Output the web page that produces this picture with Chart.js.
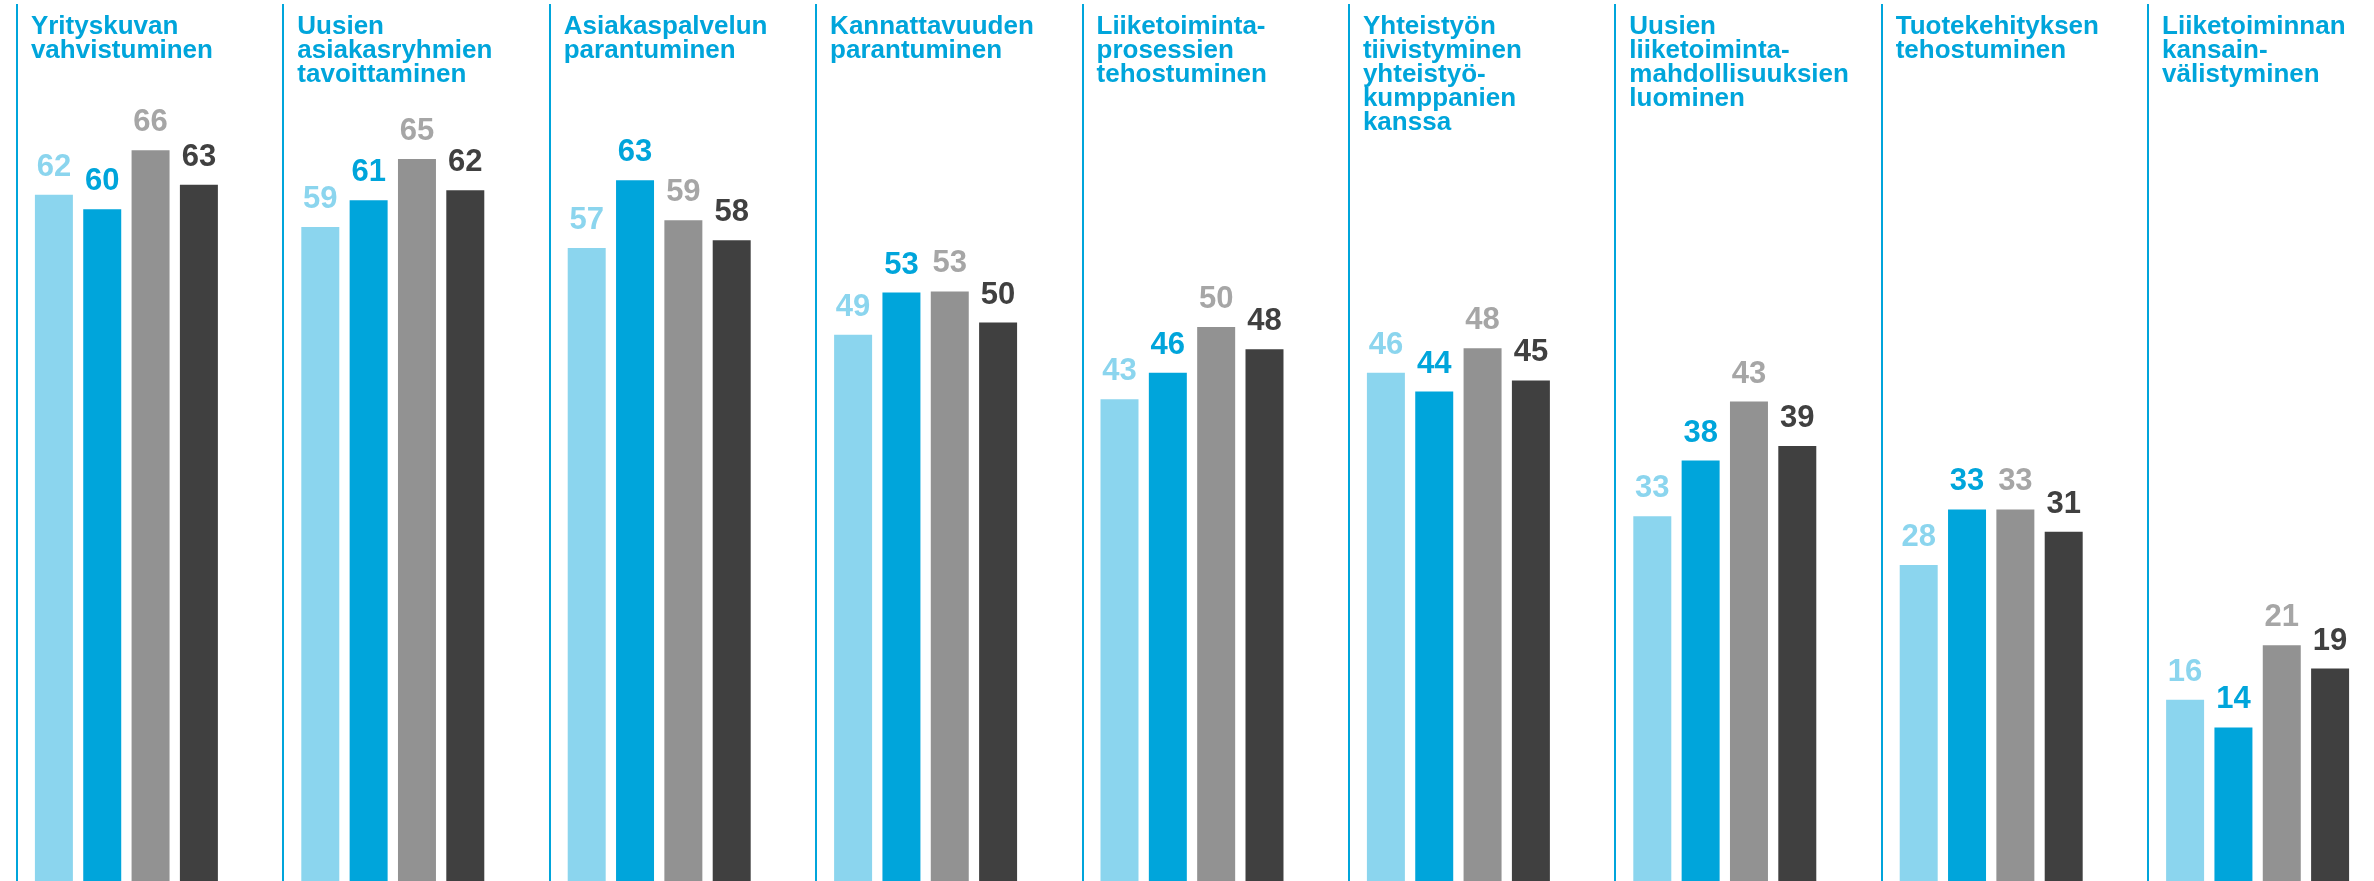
<!DOCTYPE html>
<html lang="fi">
<head>
<meta charset="utf-8">
<title>Vaikutukset</title>
<script src="https://cdn.jsdelivr.net/npm/chart.js@4.4.1/dist/chart.umd.min.js"></script>
<style>
  html, body { margin: 0; padding: 0; background: #fff; overflow: hidden; }
  #wrap { position: relative; width: 2374px; height: 881px; }
</style>
</head>
<body>
<div id="wrap"><canvas id="chart"></canvas></div>
<script>
// category titles, one array of lines each
const categories = [
  ['Yrityskuvan', 'vahvistuminen'],
  ['Uusien', 'asiakasryhmien', 'tavoittaminen'],
  ['Asiakaspalvelun', 'parantuminen'],
  ['Kannattavuuden', 'parantuminen'],
  ['Liiketoiminta-', 'prosessien', 'tehostuminen'],
  ['Yhteistyön', 'tiivistyminen', 'yhteistyö-', 'kumppanien', 'kanssa'],
  ['Uusien', 'liiketoiminta-', 'mahdollisuuksien', 'luominen'],
  ['Tuotekehityksen', 'tehostuminen'],
  ['Liiketoiminnan', 'kansain-', 'välistyminen']
];

// values (labels show them rounded)
const series1 = [61.7, 58.8, 56.9, 49.1, 43.3, 45.7, 32.8, 28.4, 16.3];
const series2 = [60.4, 61.2, 63.0, 52.9, 45.7, 44.0, 37.8, 33.4, 13.8];
const series3 = [65.7, 64.9, 59.4, 53.0, 49.8, 47.9, 43.1, 33.4, 21.2];
const series4 = [62.6, 62.1, 57.6, 50.2, 47.8, 45.0, 39.1, 31.4, 19.1];

const barColors = ['#8bd5ee', '#00a5db', '#929292', '#404040'];
const labelColors = ['#8bd5ee', '#00a5db', '#a6a6a6', '#404040'];
const titleColor = '#00a5db';
const FONT = '"Liberation Sans", Arial, sans-serif';

// separators, titles and value labels
const decorPlugin = {
  id: 'decor',
  afterDatasetsDraw(chart) {
    const ctx = chart.ctx;
    const firstBars = chart.getDatasetMeta(0).data;
    ctx.save();

    firstBars.forEach((bar, i) => {
      const left = bar.x - bar.width / 2;
      const sx = Math.round(left - 18);
      ctx.strokeStyle = '#00a5db';
      ctx.lineWidth = 2;
      ctx.beginPath();
      ctx.moveTo(sx, 4);
      ctx.lineTo(sx, chart.height);
      ctx.stroke();

      ctx.fillStyle = titleColor;
      ctx.font = 'bold 26px ' + FONT;
      ctx.textAlign = 'left';
      ctx.textBaseline = 'alphabetic';
      categories[i].forEach((line, j) => {
        ctx.fillText(line, left - 4, 34 + j * 24);
      });
    });

    ctx.font = 'bold 31px ' + FONT;
    ctx.textAlign = 'center';
    ctx.textBaseline = 'alphabetic';
    chart.data.datasets.forEach((ds, d) => {
      chart.getDatasetMeta(d).data.forEach((bar, i) => {
        ctx.fillStyle = labelColors[d];
        ctx.fillText(String(Math.round(ds.data[i])), bar.x, bar.y - 19);
      });
    });
    ctx.restore();
  }
};

const ctx = document.getElementById('chart').getContext('2d');
new Chart(ctx, {
  type: 'bar',
  data: {
    labels: categories,
    datasets: [series1, series2, series3, series4].map((s, i) => ({
      label: 'Sarja ' + (i + 1),
      data: s,
      backgroundColor: barColors[i],
      borderWidth: 0,
      categoryPercentage: 0.7257,
      barPercentage: 0.786,
      clip: false
    }))
  },
  options: {
    responsive: true,
    maintainAspectRatio: false,
    animation: false,
    devicePixelRatio: 1,
    layout: { padding: { left: 126.4, right: 116.4, top: 0, bottom: 0 } },
    plugins: {
      legend: { display: false },
      tooltip: { enabled: false }
    },
    scales: {
      x: { display: false, offset: false },
      y: { display: false, min: 0, max: 79.2 }
    }
  },
  plugins: [decorPlugin]
});
</script>
</body>
</html>
